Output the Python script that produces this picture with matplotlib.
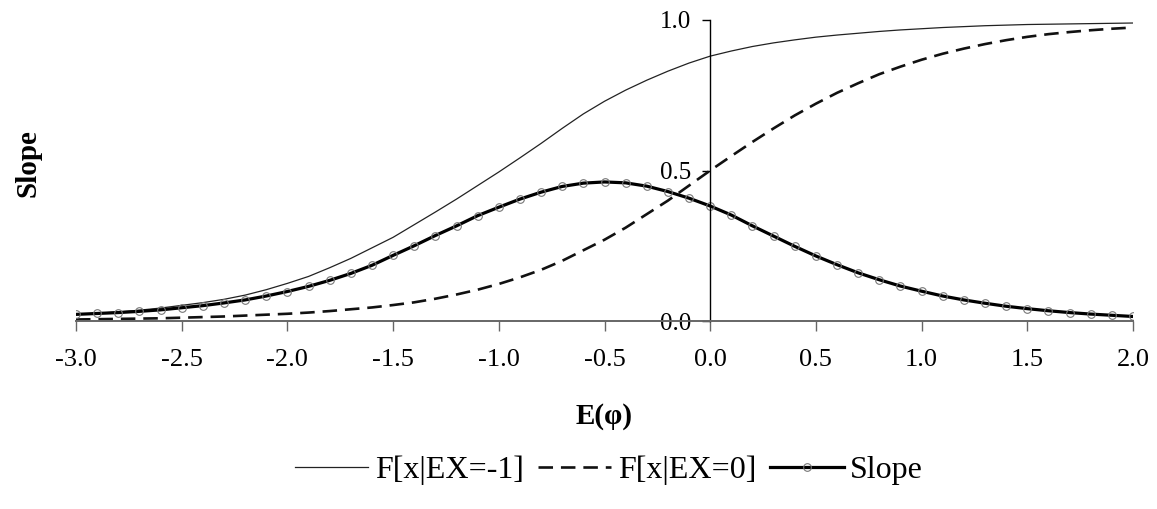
import numpy as np
import matplotlib
matplotlib.use("Agg")
from matplotlib import pyplot as plt

plt.rcParams['font.family'] = ['Liberation Serif', 'DejaVu Serif']

# expected value grid, step 0.1 from -3.0 to 2.0
ex = np.round(np.arange(-3.0, 2.01, 0.1), 1)

cdf_ex_m1 = [0.022, 0.026, 0.030, 0.036, 0.043, 0.052, 0.061, 0.072, 0.086, 0.104,
             0.125, 0.148, 0.177, 0.208, 0.243, 0.278, 0.320, 0.362, 0.405, 0.450,
             0.495, 0.542, 0.590, 0.640, 0.688, 0.730, 0.767, 0.800, 0.830, 0.857,
             0.880, 0.897, 0.912, 0.924, 0.934, 0.943, 0.950, 0.956, 0.962, 0.967,
             0.971, 0.975, 0.978, 0.981, 0.983, 0.985, 0.986, 0.987, 0.988, 0.989,
             0.990]

cdf_ex_0 = [0.005, 0.006, 0.007, 0.008, 0.009, 0.011, 0.013, 0.015, 0.018, 0.021,
            0.024, 0.028, 0.033, 0.039, 0.045, 0.053, 0.062, 0.074, 0.088, 0.104,
            0.123, 0.145, 0.170, 0.200, 0.235, 0.270, 0.310, 0.355, 0.400, 0.450,
            0.500, 0.548, 0.595, 0.640, 0.683, 0.722, 0.758, 0.790, 0.820, 0.845,
            0.868, 0.888, 0.905, 0.920, 0.933, 0.944, 0.953, 0.960, 0.966, 0.971,
            0.975]

slope = [0.022, 0.025, 0.028, 0.032, 0.037, 0.044, 0.051, 0.060, 0.070, 0.083,
         0.098, 0.115, 0.135, 0.158, 0.185, 0.218, 0.250, 0.284, 0.316, 0.350,
         0.378, 0.405, 0.428, 0.447, 0.458, 0.462, 0.459, 0.448, 0.430, 0.408,
         0.382, 0.352, 0.316, 0.282, 0.248, 0.216, 0.187, 0.160, 0.137, 0.116,
         0.099, 0.083, 0.070, 0.059, 0.049, 0.041, 0.034, 0.028, 0.023, 0.019,
         0.015]

x_ticks = np.arange(-3.0, 2.01, 0.5)
y_ticks = [0.0, 0.5, 1.0]

fig = plt.figure(figsize=(11.57, 5.09), dpi=100)
ax = fig.add_axes([76 / 1157, 1 - 321 / 509, (1133 - 76) / 1157, 301 / 509])

ax.plot(ex, cdf_ex_m1, color='#222222', lw=0.9, label='F[x|EX=-1]')
ax.plot(ex, cdf_ex_0, color='#111111', lw=1.9, dashes=(5.5, 3.0), label='F[x|EX=0]')
ax.plot(ex, slope, color='black', lw=2.3, marker='o', ms=5.5, mfc='none',
        mec='#777777', mew=0.8, label='Slope')

ax.set_xlim(-3.0, 2.0)
ax.set_ylim(0.0, 1.0)

ax.spines['top'].set_visible(False)
ax.spines['right'].set_visible(False)
ax.spines['left'].set_position(('data', 0))
ax.spines['bottom'].set_position(('data', 0))
ax.spines['left'].set_linewidth(1.0)
ax.spines['bottom'].set_color('#666666')
ax.spines['bottom'].set_linewidth(1.4)

ax.set_xticks(x_ticks)
ax.set_xticklabels([f'{v:.1f}' for v in x_ticks])
ax.set_yticks(y_ticks)
ax.set_yticklabels([f'{v:.1f}' for v in y_ticks])
ax.tick_params(axis='x', direction='out', length=7, width=1.0, color='#666666',
               labelsize=19, pad=13)
ax.tick_params(axis='y', direction='out', length=6, width=1.0, labelsize=18, pad=8)

ax.set_xlabel('E(φ)', fontsize=21, fontweight='bold', labelpad=23)
fig.text(28 / 1157, 1 - 163 / 509, 'Slope', rotation=90, fontsize=21,
         fontweight='bold', ha='center', va='center')

fig.legend(loc='center', bbox_to_anchor=(609 / 1157, 1 - 470 / 509), ncol=3,
           frameon=False, fontsize=23, handlelength=2.3, handletextpad=0.2,
           columnspacing=0.45, numpoints=1)

fig.savefig('out.png', dpi=100)
